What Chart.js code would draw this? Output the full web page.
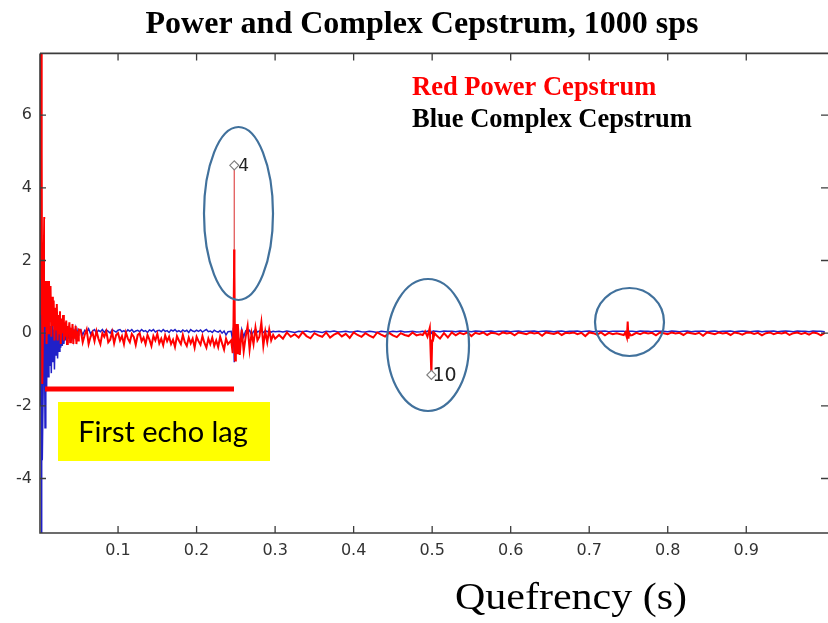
<!DOCTYPE html>
<html>
<head>
<meta charset="utf-8">
<script src="https://cdn.jsdelivr.net/npm/chart.js@4.4.1/dist/chart.umd.min.js"></script>
<style>
  html, body { margin: 0; padding: 0; background: #fff; overflow: hidden; }
  #wrap { width: 844px; height: 623px; position: relative; }
</style>
</head>
<body>
<div id="wrap"><canvas id="cepstrum"></canvas></div>
<script>
// quefrency (s) of each plotted sample
const quefrency = [
  0.001, 0.0015, 0.002, 0.0025, 0.003, 0.0035,
  0.006, 0.007, 0.008, 0.009, 0.010, 0.011, 0.012, 0.013, 0.014, 0.015,
  0.016, 0.017, 0.018, 0.019, 0.020, 0.021, 0.022, 0.023, 0.024, 0.025,
  0.026, 0.027, 0.028, 0.029, 0.030, 0.031, 0.032, 0.033, 0.034, 0.035,
  0.036, 0.037, 0.038, 0.039, 0.040, 0.041, 0.042, 0.043, 0.044, 0.045,
  0.046, 0.047, 0.048, 0.049, 0.050,
  0.0525, 0.055, 0.0575, 0.06, 0.0625, 0.065, 0.0675, 0.07, 0.0725, 0.075,
  0.0775, 0.08, 0.0825, 0.085, 0.0875, 0.09, 0.0925, 0.095, 0.0975, 0.1,
  0.1025, 0.105, 0.1075, 0.11, 0.1125, 0.115, 0.1175, 0.12, 0.1225, 0.125,
  0.1275, 0.13, 0.1325, 0.135, 0.1375, 0.14, 0.1425, 0.145, 0.1475, 0.15,
  0.1525, 0.155, 0.1575, 0.16, 0.1625, 0.165, 0.1675, 0.17, 0.1725, 0.175,
  0.1775, 0.18, 0.1825, 0.185, 0.1875, 0.19, 0.1925, 0.195, 0.1975, 0.2,
  0.2025, 0.205, 0.2075, 0.21, 0.2125, 0.215, 0.2175, 0.22, 0.2225, 0.225,
  0.2275, 0.23, 0.2325, 0.235, 0.2375, 0.24,
  0.244, 0.246, 0.247, 0.248, 0.248, 0.248, 0.249, 0.250, 0.2515,
  0.2525, 0.255, 0.2575, 0.26, 0.2625, 0.265, 0.2675, 0.27, 0.2725, 0.275,
  0.2775, 0.28, 0.2825, 0.285, 0.2875, 0.29, 0.2925, 0.295, 0.2975, 0.3,
  0.305, 0.310, 0.315, 0.320, 0.325, 0.330, 0.335, 0.340, 0.345, 0.350,
  0.355, 0.360, 0.365, 0.370, 0.375, 0.380, 0.385, 0.390, 0.395, 0.400,
  0.405, 0.410, 0.415, 0.420, 0.425, 0.430, 0.435, 0.440, 0.445, 0.450,
  0.455, 0.460, 0.465, 0.470, 0.475, 0.480, 0.485,
  0.488, 0.491, 0.494, 0.497, 0.499, 0.500, 0.501, 0.502, 0.503,
  0.505, 0.510, 0.515, 0.520, 0.525, 0.530, 0.535, 0.540, 0.545, 0.550,
  0.555, 0.560, 0.565, 0.570, 0.575, 0.580, 0.585, 0.590, 0.595, 0.600,
  0.605, 0.610, 0.615, 0.620, 0.625, 0.630, 0.635, 0.640, 0.645, 0.650,
  0.655, 0.660, 0.665, 0.670, 0.675, 0.680, 0.685, 0.690, 0.695, 0.700,
  0.705, 0.710, 0.715, 0.720, 0.725, 0.730, 0.735,
  0.744, 0.746, 0.748, 0.749, 0.750, 0.751, 0.753,
  0.755, 0.760, 0.765, 0.770, 0.775, 0.780, 0.785, 0.790, 0.795, 0.800,
  0.805, 0.810, 0.815, 0.820, 0.825, 0.830, 0.835, 0.840, 0.845, 0.850,
  0.855, 0.860, 0.865, 0.870, 0.875, 0.880, 0.885, 0.890, 0.895, 0.900,
  0.905, 0.910, 0.915, 0.920, 0.925, 0.930, 0.935, 0.940, 0.945, 0.950,
  0.955, 0.960, 0.965, 0.970, 0.975, 0.980, 0.985, 0.990, 0.995, 1.000
];

// red: power cepstrum
const powerCep = [
  8.5, 1.5, 8.5, 0.5, 5.0, -1.4,
  3.2, 0.2, 2.2, -0.3, 1.8, 0.0, 1.5, 0.3, 1.3, -0.1,
  1.0, 0.2, 0.9, -0.2, 0.7, 0.1, 0.8, -0.2, 0.5, 0.0,
  0.6, -0.3, 0.4, 0.0, 0.5, -0.2, 0.3, -0.1, 0.35, -0.3,
  0.2, 0.0, 0.3, -0.25, 0.15, -0.1, 0.25, -0.3, 0.1, -0.15,
  0.2, -0.3, 0.05, -0.2, 0.1,
  0.08, -0.25, -0.05, 0.1, -0.3, -0.1, 0.02, -0.22, 0.06, -0.15,
  -0.3, 0.0, -0.1, 0.05, -0.25, -0.18, 0.03, -0.28, -0.05, 0.0,
  -0.2, -0.08, -0.3, 0.02, -0.15, -0.25, -0.02, -0.1, -0.32, -0.05,
  0.0, -0.22, -0.12, -0.3, -0.05, -0.18, -0.35, -0.08, -0.2, -0.02,
  -0.28, -0.15, -0.33, -0.06, -0.22, -0.1, -0.3, -0.18, -0.38, -0.08,
  -0.2, -0.3, -0.05, -0.25, -0.35, -0.12, -0.28, -0.15, -0.4, -0.1,
  -0.22, -0.32, -0.08, -0.27, -0.4, -0.15, -0.3, -0.12, -0.35, -0.2,
  -0.38, -0.1, -0.28, -0.45, -0.15, -0.3,
  -0.2, -0.55, 0.3, 2.3, 4.62, 2.3, -0.75, 0.25, -0.55,
  0.25, -0.6, 0.1, -0.5, -0.1, 0.2, -0.45, 0.0, -0.3, 0.15,
  -0.2, -0.1, 0.3, -0.35, 0.05, -0.25, 0.1, -0.2, -0.05, -0.15,
  -0.05, -0.15, 0.02, -0.1, -0.03, -0.12, 0.03, -0.08, -0.14, 0.0,
  -0.06, -0.1, 0.02, -0.12, -0.04, 0.01, -0.09, -0.02, -0.13, 0.02,
  -0.05, -0.1, 0.0, -0.07, -0.12, 0.02, -0.04, -0.09, 0.01, -0.06,
  -0.11, 0.0, -0.05, -0.08, 0.02, -0.06, -0.03,
  -0.05, 0.05, -0.1, 0.15, -1.15, -0.2, 0.05, -0.1, 0.0,
  -0.05, -0.15, 0.0, -0.12, 0.02, -0.06, 0.01, -0.03, 0.02, -0.08,
  0.01, -0.02, 0.02, -0.05, 0.01, 0.0, -0.04, 0.02, -0.01, 0.01,
  -0.06, 0.02, 0.0, -0.03, 0.02, -0.01, 0.01, -0.07, 0.02, 0.0,
  -0.02, 0.02, -0.05, 0.01, 0.0, 0.02, -0.03, 0.01, -0.08, 0.02,
  0.0, -0.04, 0.02, -0.06, 0.01, -0.03, 0.0,
  -0.05, 0.02, -0.12, 0.32, -0.15, 0.0, -0.06,
  -0.05, 0.01, -0.03, 0.02, -0.01, 0.01, -0.06, 0.02, 0.0, -0.03,
  0.02, -0.01, 0.01, -0.05, 0.02, 0.0, -0.02, 0.01, -0.07, 0.02,
  0.0, -0.03, 0.02, -0.01, 0.01, -0.05, 0.02, 0.0, -0.04, 0.01,
  0.02, -0.02, 0.01, -0.06, 0.0, 0.02, -0.03, 0.01, -0.01, 0.02,
  -0.05, 0.0, 0.02, -0.02, 0.01, -0.04, 0.02, 0.0, -0.06, 0.01
];

// blue: complex cepstrum
const complexCep = [
  3.9, -2.0, 2.5, -5.6, 1.5, -3.5,
  0.8, -2.6, 0.5, -1.6, 0.4, -1.2, 0.3, -0.9, 0.2, -1.1,
  0.3, -0.8, 0.1, -1.0, 0.2, -0.6, 0.1, -0.7, 0.0, -0.5,
  0.1, -0.4, 0.05, -0.35, 0.1, -0.3, 0.0, -0.2, 0.1, -0.25,
  0.05, -0.15, 0.1, -0.2, 0.0, -0.1, 0.08, -0.15, 0.05, -0.05,
  0.1, -0.1, 0.06, -0.05, 0.08,
  0.1, -0.05, 0.08, 0.02, 0.12, -0.02, 0.06, 0.1, 0.0, 0.08,
  0.04, 0.1, 0.02, 0.09, 0.05, 0.0, 0.1, 0.06, 0.03, 0.08,
  0.1, 0.04, 0.07, 0.02, 0.09, 0.05, 0.1, 0.03, 0.06, 0.08,
  0.04, 0.1, 0.05, 0.07, 0.02, 0.09, 0.06, 0.1, 0.03, 0.07,
  0.08, 0.04, 0.1, 0.05, 0.07, 0.02, 0.09, 0.06, 0.1, 0.04,
  0.07, 0.03, 0.09, 0.05, 0.08, 0.02, 0.1, 0.06, 0.04, 0.08,
  0.05, 0.09, 0.03, 0.07, 0.1, 0.04, 0.06, 0.02, 0.08, 0.05,
  0.03, 0.07, 0.0, 0.06, -0.05, 0.04,
  0.05, -0.2, 0.15, -0.8, -0.8, -0.8, 0.15, -0.5, 0.05,
  0.05, -0.3, 0.1, -0.1, 0.06, 0.02, 0.08, -0.05, 0.05, 0.1,
  0.03, 0.06, 0.08, 0.02, 0.07, 0.04, 0.06, 0.03, 0.05, 0.04,
  0.05, 0.03, 0.06, 0.04, 0.02, 0.05, 0.04, 0.06, 0.03, 0.05,
  0.04, 0.02, 0.05, 0.04, 0.06, 0.03, 0.04, 0.05, 0.03, 0.04,
  0.06, 0.04, 0.03, 0.05, 0.04, 0.02, 0.05, 0.04, 0.03, 0.05,
  0.04, 0.06, 0.03, 0.04, 0.05, 0.03, 0.04,
  0.05, 0.03, 0.06, 0.04, 0.0, 0.05, 0.04, 0.06, 0.05,
  0.05, 0.04, 0.06, 0.05, 0.05, 0.04, 0.06, 0.05, 0.05, 0.04,
  0.06, 0.05, 0.04, 0.05, 0.06, 0.04, 0.05, 0.05, 0.06, 0.04,
  0.05, 0.06, 0.04, 0.05, 0.05, 0.06, 0.04, 0.05, 0.06, 0.05,
  0.04, 0.05, 0.06, 0.04, 0.05, 0.05, 0.06, 0.04, 0.05, 0.06,
  0.04, 0.05, 0.05, 0.06, 0.04, 0.05, 0.05,
  0.05, 0.04, 0.05, 0.06, 0.04, 0.05, 0.05,
  0.05, 0.04, 0.06, 0.05, 0.05, 0.04, 0.06, 0.05, 0.05, 0.04,
  0.06, 0.05, 0.04, 0.05, 0.06, 0.04, 0.05, 0.05, 0.06, 0.04,
  0.05, 0.06, 0.04, 0.05, 0.05, 0.06, 0.04, 0.05, 0.06, 0.05,
  0.04, 0.05, 0.06, 0.04, 0.05, 0.05, 0.06, 0.04, 0.05, 0.06,
  0.05, 0.04, 0.06, 0.05, 0.05, 0.04, 0.06, 0.05, 0.05, 0.04
];

// data tips placed on the echo peaks
const tipQuefrency = [0.248, 0.499];
const tipValues = [4.62, -1.15];
const tipLabels = ["4", "10"];

const xTicks = [0.1, 0.2, 0.3, 0.4, 0.5, 0.6, 0.7, 0.8, 0.9];
const yTicks = [-4, -2, 0, 2, 4, 6];

if (powerCep.length !== quefrency.length || complexCep.length !== quefrency.length) {
  throw new Error("length mismatch " + quefrency.length + " " + powerCep.length + " " + complexCep.length);
}

const pts = (ys) => ys.map((v, i) => ({ x: quefrency[i], y: v }));
const tickFont = { family: "DejaVu Sans", size: 16 };

const overlay = {
  id: "overlay",
  afterDatasetsDraw(chart) {
    const { ctx, chartArea: a, scales } = chart;
    const x = scales.x;
    const y = scales.y;
    ctx.save();

    // white patch over the trace near the origin
    ctx.fillStyle = "#fff";
    ctx.fillRect(45, 219, 27, 62);

    // axes box, matlab style with inward ticks
    ctx.strokeStyle = "#3c3c3c";
    ctx.lineWidth = 1.6;
    ctx.beginPath();
    ctx.moveTo(a.left, a.top);
    ctx.lineTo(a.right, a.top);
    ctx.moveTo(a.left, a.top);
    ctx.lineTo(a.left, a.bottom);
    ctx.lineTo(a.right, a.bottom);
    ctx.stroke();
    ctx.lineWidth = 1.3;
    ctx.beginPath();
    xTicks.forEach((v) => {
      const px = x.getPixelForValue(v);
      ctx.moveTo(px, a.bottom);
      ctx.lineTo(px, a.bottom - 7);
      ctx.moveTo(px, a.top);
      ctx.lineTo(px, a.top + 7);
    });
    yTicks.forEach((v) => {
      const py = y.getPixelForValue(v);
      ctx.moveTo(a.left, py);
      ctx.lineTo(a.left + 6, py);
      ctx.moveTo(828, py);
      ctx.lineTo(821, py);
    });
    ctx.stroke();

    // data tip labels
    ctx.fillStyle = "#222";
    ctx.textBaseline = "middle";
    tipLabels.forEach((t, i) => {
      const px = x.getPixelForValue(tipQuefrency[i]);
      const py = y.getPixelForValue(tipValues[i]);
      ctx.font = (i === 0 ? 17 : 19) + "px 'DejaVu Sans'";
      ctx.fillText(t, px + (i === 0 ? 4 : 1), py + 1);
    });

    // first echo lag marker
    ctx.strokeStyle = "#ff0000";
    ctx.lineWidth = 5;
    ctx.beginPath();
    ctx.moveTo(45, 389);
    ctx.lineTo(234, 389);
    ctx.stroke();
    ctx.fillStyle = "#ffff00";
    ctx.fillRect(58, 402, 212, 59);
    ctx.fillStyle = "#000";
    ctx.font = "29px Lato";
    ctx.textAlign = "center";
    ctx.textBaseline = "alphabetic";
    ctx.fillText("First echo lag", 163, 442);

    // ellipses around the echoes
    ctx.strokeStyle = "#41719c";
    ctx.lineWidth = 2.2;
    [[238.5, 213.5, 34.5, 86.5], [428, 345, 41, 66], [629.5, 322, 34.5, 34]].forEach((e) => {
      ctx.beginPath();
      ctx.ellipse(e[0], e[1], e[2], e[3], 0, 0, Math.PI * 2);
      ctx.stroke();
    });

    // legend text
    ctx.textAlign = "left";
    ctx.font = "bold 26.5px 'Liberation Serif'";
    ctx.fillStyle = "#ff0000";
    ctx.fillText("Red Power Cepstrum", 412, 95);
    ctx.fillStyle = "#000";
    ctx.fillText("Blue Complex Cepstrum", 412, 127);

    // x axis title, stretched like the original
    ctx.font = "37px 'Liberation Serif'";
    const w = ctx.measureText("Quefrency (s)").width;
    ctx.translate(455, 609);
    ctx.scale(232 / w, 1);
    ctx.fillText("Quefrency (s)", 0, 0);
    ctx.restore();
  },
};

new Chart(document.getElementById("cepstrum"), {
  type: "line",
  data: {
    datasets: [
      {
        label: "tips",
        data: tipQuefrency.map((q, i) => ({ x: q, y: tipValues[i] })),
        showLine: false,
        pointStyle: "rectRot",
        pointRadius: 4.5,
        pointBorderColor: "#808080",
        pointBackgroundColor: "#ffffff",
        pointBorderWidth: 1.2,
        order: 0,
      },
      {
        label: "Power Cepstrum",
        data: pts(powerCep),
        borderColor: "#ff0000",
        borderWidth: 2,
        pointRadius: 0,
        order: 1,
        segment: {
          borderWidth: (c) =>
            c.p0.parsed.x > 0.1 && c.p0.parsed.y > 2 && c.p1.parsed.y > 2 ? 1.3 : undefined,
          borderColor: (c) =>
            c.p0.parsed.x > 0.1 && c.p0.parsed.y > 2 && c.p1.parsed.y > 2 ? "#e25a5a" : undefined,
        },
      },
      {
        label: "Complex Cepstrum",
        data: pts(complexCep),
        borderColor: "#2020c8",
        borderWidth: 1.5,
        pointRadius: 0,
        order: 2,
      },
    ],
  },
  options: {
    responsive: true,
    maintainAspectRatio: false,
    animation: false,
    layout: { padding: 0 },
    plugins: {
      legend: { display: false },
      tooltip: { enabled: false },
      title: {
        display: true,
        text: "Power and Complex Cepstrum, 1000 sps",
        font: { family: "Liberation Serif", size: 32, weight: "bold" },
        color: "#000",
        padding: { top: 6, bottom: 9 },
      },
    },
    scales: {
      x: {
        type: "linear",
        min: 0.0006,
        max: 1.0172,
        grid: { display: false, drawTicks: false },
        border: { display: false },
        afterBuildTicks: (s) => {
          s.ticks = xTicks.map((v) => ({ value: v }));
        },
        afterFit: (s) => {
          s.height = 90;
        },
        ticks: {
          font: tickFont,
          color: "#333",
          padding: 8,
          maxRotation: 0,
          callback: (v) => v.toFixed(1),
        },
      },
      y: {
        min: -5.5,
        max: 7.7,
        grid: { display: false, drawTicks: false },
        border: { display: false },
        afterBuildTicks: (s) => {
          s.ticks = yTicks.map((v) => ({ value: v }));
        },
        afterFit: (s) => {
          s.width = 40;
        },
        ticks: { font: tickFont, color: "#333", padding: 8 },
      },
    },
  },
  plugins: [overlay],
});
</script>
</body>
</html>
